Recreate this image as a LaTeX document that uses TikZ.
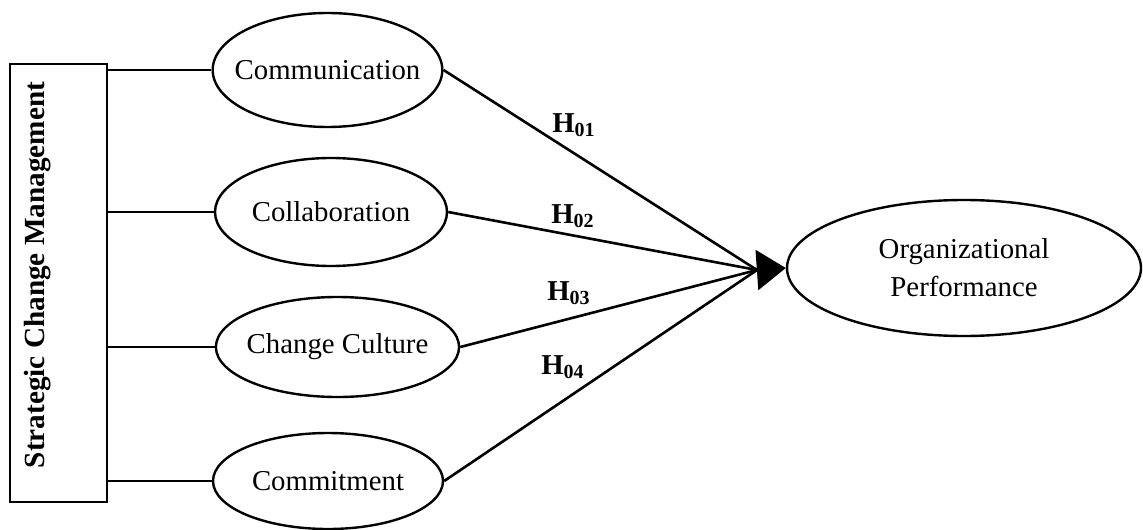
\documentclass[tikz,border=0pt]{standalone}
\usepackage{fontspec}
\setmainfont{Liberation Serif}
\usetikzlibrary{arrows.meta,positioning,shapes.geometric}

\begin{document}
\begin{tikzpicture}[x=0.5pt,y=-0.5pt,
                construct/.style={draw,ellipse,line width=1.2pt,inner sep=0pt,align=center,font=\fontsize{14.4}{19}\selectfont},
                hyp/.style={font=\fontsize{14.4}{17}\selectfont\bfseries},
                link/.style={line width=0.6pt},
                path/.style={line width=1.3pt}]
                \useasboundingbox (0,0) rectangle (1143,529);
                \node[draw,line width=0.6pt,minimum width=48.5pt,minimum height=219pt] (scm) at (58.5,283) {};
                \node[rotate=90,font=\fontsize{14.6}{17}\selectfont\bfseries] (scm_label) at (38,275) {Strategic Change Management};
                \node[construct,inner xsep=-5.8pt,minimum width=114.5pt,minimum height=57pt] (comm) at (327.5,70) {Communication};
                \node[construct,minimum width=116pt,minimum height=54pt] (collab) at (331,212) {Collaboration};
                \node[construct,inner xsep=-2.4pt,minimum width=121.5pt,minimum height=50pt] (culture) at (337.5,347) {Change Culture};
                \node[construct,minimum width=115pt,minimum height=48pt] (commit) at (328,481) {Commitment};
                \node[construct,minimum width=177pt,minimum height=68pt] (perf) at (964,268) {Organizational\\Performance};
                \coordinate (hub) at (757,270);
                \node[hyp] (h01) at (574,125) {H\textsubscript{01}};
                \node[hyp] (h02) at (573,216) {H\textsubscript{02}};
                \node[hyp] (h03) at (569,293) {H\textsubscript{03}};
                \node[hyp] (h04) at (563,367) {H\textsubscript{04}};
                \path[link]
                (comm.west -| scm.east) edge (comm.west)
                (collab.west -| scm.east) edge (collab.west)
                (culture.west -| scm.east) edge (culture.west)
                (commit.west -| scm.east) edge (commit.west);
                \path[path]
                (comm.east) edge (hub)
                (collab.east) edge (hub)
                (culture.east) edge (hub)
                (commit.east) edge (hub);
                \draw[path,-{Triangle[length=14.5pt,width=20pt]}] (hub) -- (perf.west);
            \end{tikzpicture}
\end{document}
